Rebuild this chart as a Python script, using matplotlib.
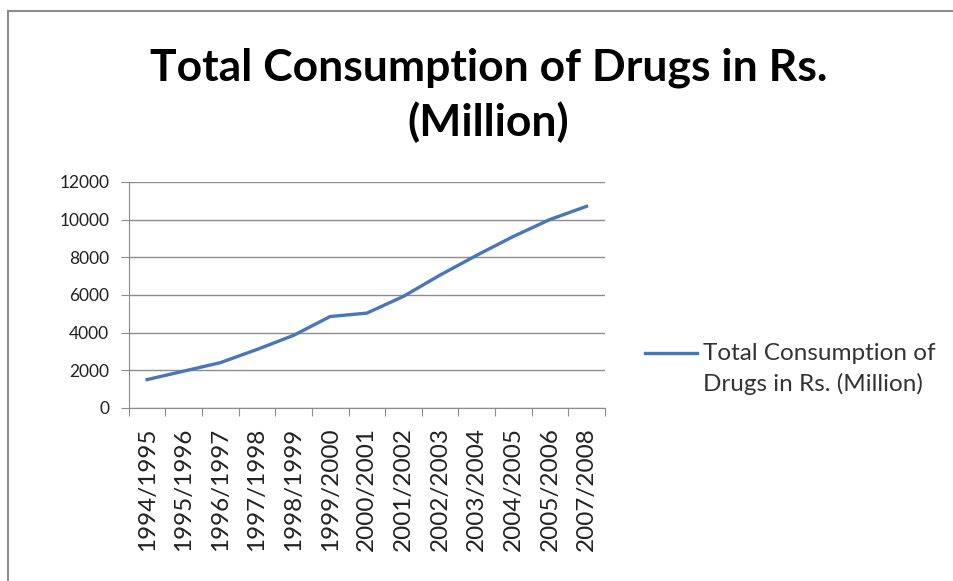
import matplotlib.pyplot as plt
from matplotlib.patches import Rectangle

# data
years = ['1994/1995', '1995/1996', '1996/1997', '1997/1998', '1998/1999',
         '1999/2000', '2000/2001', '2001/2002', '2002/2003', '2003/2004',
         '2004/2005', '2005/2006', '2007/2008']
consumption = [1500, 1950, 2400, 3100, 3850, 4850, 5030, 5920, 7050,
               8100, 9100, 10000, 10700]

plt.rcParams['font.family'] = ['Lato', 'DejaVu Sans']

fig = plt.figure(figsize=(9.54, 5.81), dpi=100)
ax = fig.add_axes([0.135, 0.298, 0.499, 0.389])

# outer chart border (top and left visible)
fig.patches.append(Rectangle((8/954, -0.05), 1.2, 1 - 11/581 + 0.05,
                             transform=fig.transFigure, fill=False,
                             edgecolor='#8c8c8c', linewidth=1.5))

ax.plot(range(len(years)), consumption, color='#4a76b8', linewidth=2.4,
        label='Total Consumption of\nDrugs in Rs. (Million)')

ax.set_xlim(-0.5, len(years) - 0.5)
ax.set_ylim(0, 12000)
ax.set_yticks(range(0, 12001, 2000))
ax.grid(axis='y', color='#8c8c8c', linewidth=1)
ax.set_axisbelow(True)

# ticks between categories, labels at centres
ax.set_xticks([i - 0.5 for i in range(len(years) + 1)])
ax.set_xticklabels([])
ax.set_xticks(range(len(years)), minor=True)
ax.set_xticklabels(years, minor=True, rotation=90, fontsize=17.5, color='#222222')
ax.tick_params(axis='x', which='minor', length=0, pad=14)
ax.tick_params(axis='x', which='major', length=6, color='#8c8c8c')
ax.tick_params(axis='y', length=6, color='#8c8c8c', labelsize=12.5,
               labelcolor='#222222', pad=8)

for s in ['top', 'right']:
    ax.spines[s].set_visible(False)
for s in ['left', 'bottom']:
    ax.spines[s].set_color('#8c8c8c')

fig.text(0.512, 0.836, 'Total Consumption of Drugs in Rs.\n(Million)',
         ha='center', va='center', fontsize=32, fontweight='bold',
         linespacing=1.36)

leg = fig.legend(loc='center left', bbox_to_anchor=(645/954, 1 - 369/581),
                 frameon=False, fontsize=17.5, handlelength=2.15,
                 handletextpad=0.25, borderpad=0, borderaxespad=0,
                 labelcolor='#333333')
leg.get_texts()[0].set_linespacing(1.5)
# keep the legend line level with the first text line
hl = leg.get_lines()[0]
hl.set_ydata([y + 11.5 for y in hl.get_ydata()])

fig.savefig('out.png', dpi=100)
